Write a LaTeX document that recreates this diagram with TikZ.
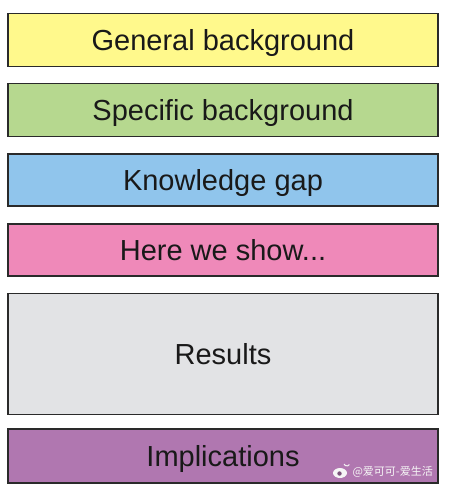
\documentclass[tikz,border=0pt]{standalone}
\usepackage{fontspec}
\setmainfont{Liberation Sans}
\newfontfamily\cjk{Noto Sans CJK SC}
\definecolor{cyellow}{HTML}{FFF98C}
\definecolor{cgreen}{HTML}{B6D88F}
\definecolor{cblue}{HTML}{90C5EC}
\definecolor{cpink}{HTML}{EF89B9}
\definecolor{cgray}{HTML}{E2E3E5}
\definecolor{cpurple}{HTML}{B077B0}
\definecolor{cedge}{HTML}{2A2A2A}
\begin{document}
\begin{tikzpicture}[x=1pt,y=-1pt,
  sect/.style={draw=cedge,line width=1.3pt,rectangle,inner sep=0pt,
    font=\fontsize{29}{32}\selectfont,text=black!90,text height=20.8pt,text depth=0pt}]
\useasboundingbox[fill=white] (0,0) rectangle (453,492);
\node[sect,fill=cyellow,minimum width=430,minimum height=53] (gen) at (223,40) {General background};
\node[sect,fill=cgreen,minimum width=430,minimum height=53] (spec) at (223,110) {Specific background};
\node[sect,fill=cblue,minimum width=430,minimum height=52] (gap) at (223,180) {Knowledge gap};
\node[sect,fill=cpink,minimum width=430,minimum height=52] (show) at (223,250) {Here we show...};
\node[sect,fill=cgray,minimum width=430,minimum height=121] (res) at (223,354) {Results};
\node[sect,fill=cpurple,minimum width=430,minimum height=54] (imp) at (223,456) {Implications};
\node[anchor=east,text=white!92!gray,font=\cjk\fontsize{11}{12}\selectfont,inner sep=0pt] (wm) at (433,472) {@爱可可-爱生活};
\fill[white!92!gray] (340,473) ellipse (7pt and 5pt);
\fill[cpurple!70!black] (339.5,473.5) circle (2.2pt);
\draw[white!92!gray,line width=1pt] (344,464) arc (200:330:3pt);
\end{tikzpicture}
\end{document}
